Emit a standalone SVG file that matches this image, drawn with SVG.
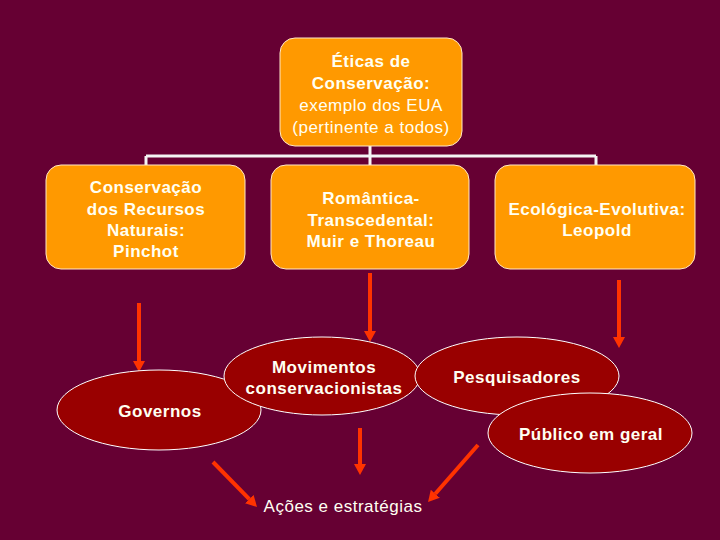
<svg xmlns="http://www.w3.org/2000/svg" width="720" height="540" viewBox="0 0 720 540">
<defs>
<marker id="ah" markerUnits="userSpaceOnUse" markerWidth="11" markerHeight="12" viewBox="0 0 11 12" refX="0" refY="6" orient="auto">
<path d="M0,0 L11,6 L0,12 z" fill="#FF3300"/>
</marker>
<style>
text{font-family:"Liberation Sans",Arial,sans-serif;font-size:17px;fill:#FFFFF2;text-anchor:middle;letter-spacing:0.5px}
.b{font-weight:bold}
.box{fill:#FF9900;stroke:#FFE8C8;stroke-width:1}
.ell{fill:#990000;stroke:#FFFFFF;stroke-width:1}
.tree{stroke:#F4F4F4;stroke-width:3;fill:none}
.arr{stroke:#FF3300;stroke-width:4;fill:none;marker-end:url(#ah)}
</style>
</defs>
<rect width="720" height="540" fill="#660033"/>
<g id="connectors">
<path class="tree" d="M370,146 V156 M146,156 H596 M146,156 V166 M370,156 V166 M596,156 V166"/>
<line class="arr" x1="139" y1="303" x2="139" y2="361"/>
<line class="arr" x1="370" y1="273" x2="370" y2="331"/>
<line class="arr" x1="619" y1="280" x2="619" y2="337"/>
<line class="arr" x1="360" y1="428" x2="360" y2="464"/>
<line class="arr" x1="213" y1="462" x2="249.3" y2="499.1"/>
<line class="arr" x1="478" y1="445" x2="435.3" y2="493.7"/>
</g>
<g id="top">
<rect class="box" x="280" y="38" width="182" height="108" rx="15"/>
<text class="b" x="371" y="67">Éticas de</text>
<text class="b" x="371" y="89">Conservação:</text>
<text x="371" y="111">exemplo dos EUA</text>
<text x="371" y="133">(pertinente a todos)</text>
</g>
<g id="pinchot">
<rect class="box" x="46" y="165" width="199" height="104" rx="15"/>
<text class="b" x="146" y="193">Conservação</text>
<text class="b" x="146" y="214.5">dos Recursos</text>
<text class="b" x="146" y="236">Naturais:</text>
<text class="b" x="146" y="257">Pinchot</text>
</g>
<g id="romantica">
<rect class="box" x="271" y="165" width="198" height="104" rx="15"/>
<text class="b" x="371" y="204">Romântica-</text>
<text class="b" x="371" y="225.5">Transcedental:</text>
<text class="b" x="371" y="247">Muir e Thoreau</text>
</g>
<g id="ecologica">
<rect class="box" x="495" y="165" width="200" height="104" rx="15"/>
<text class="b" x="597" y="215">Ecológica-Evolutiva:</text>
<text class="b" x="597" y="236">Leopold</text>
</g>
<g id="governos">
<ellipse class="ell" cx="159" cy="410" rx="102" ry="40"/>
<text class="b" x="160" y="416.5">Governos</text>
</g>
<g id="movimentos">
<ellipse class="ell" cx="322" cy="376" rx="98" ry="39"/>
<text class="b" x="324" y="373">Movimentos</text>
<text class="b" x="324" y="394">conservacionistas</text>
</g>
<g id="pesquisadores">
<ellipse class="ell" cx="517" cy="376" rx="102" ry="39"/>
<text class="b" x="517" y="383">Pesquisadores</text>
</g>
<g id="publico">
<ellipse class="ell" cx="590" cy="433" rx="102" ry="40"/>
<text class="b" x="591" y="440">Público em geral</text>
</g>
<g id="acoes">
<text x="343" y="512">Ações e estratégias</text>
</g>
</svg>
